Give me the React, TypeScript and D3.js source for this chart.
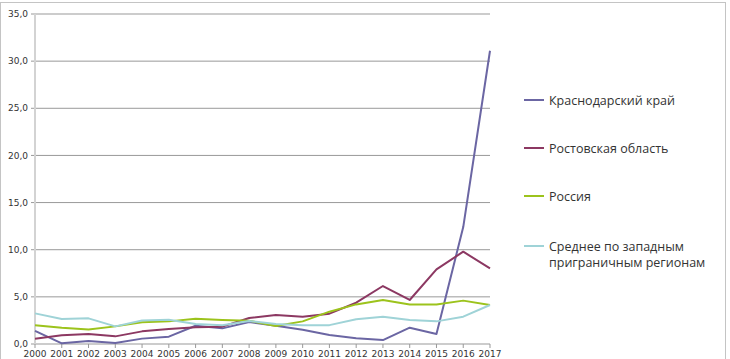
import React from "react";
import * as d3 from "d3";

const width = 730;
const height = 359;
const margin = { top: 14, left: 35, bottom: 15, right: 240 };

const years = [2000, 2001, 2002, 2003, 2004, 2005, 2006, 2007, 2008, 2009, 2010, 2011, 2012, 2013, 2014, 2015, 2016, 2017];
const yTicks = [0, 5, 10, 15, 20, 25, 30, 35];

const krasnodar = [1.4, 0.07, 0.32, 0.1, 0.57, 0.78, 1.94, 1.66, 2.33, 1.94, 1.52, 0.95, 0.6, 0.42, 1.73, 1.06, 12.4, 31.1];
const rostov = [0.56, 0.92, 1.06, 0.81, 1.34, 1.59, 1.77, 1.84, 2.76, 3.07, 2.9, 3.22, 4.38, 6.15, 4.67, 7.92, 9.79, 8.02];
const russia = [2.0, 1.73, 1.55, 1.87, 2.3, 2.4, 2.69, 2.55, 2.47, 1.91, 2.4, 3.43, 4.2, 4.67, 4.2, 4.2, 4.6, 4.14];
const western = [3.25, 2.65, 2.72, 1.87, 2.5, 2.58, 2.12, 1.98, 2.44, 2.12, 2.0, 2.0, 2.62, 2.9, 2.55, 2.4, 2.9, 4.14];

const series = [
  { name: ["Краснодарский край"], values: krasnodar, color: "#6b66a3" },
  { name: ["Ростовская область"], values: rostov, color: "#8c3862" },
  { name: ["Россия"], values: russia, color: "#9cc31c" },
  { name: ["Среднее по западным", "приграничным регионам"], values: western, color: "#9fd3d7" },
];

const legendY = [100, 148, 196, 246];

const x = d3.scaleLinear().domain([2000, 2017]).range([margin.left, 490]);
const y = d3.scaleLinear().domain([0, 35]).range([344, margin.top]);

const fmt = (v: number) => d3.format(".1f")(v).replace(".", ",");

export default function App() {
  const line = d3.line<number>().x((_, i) => x(years[i])).y(d => y(d));
  return (
    <svg width={width} height={height} style={{ position: "absolute", left: 0, top: 0, background: "#fff" }}>
      <rect x={0.5} y={2.5} width={725} height={400} fill="#fff" stroke="#c4c4c4" />
      {yTicks.map(t => (
        <g key={t}>
          <line x1={31} x2={490} y1={y(t)} y2={y(t)} stroke="#999" strokeWidth={1} />
          <text x={28} y={y(t)} dy="0.35em" textAnchor="end" fontFamily="DejaVu Sans" fontSize={9} fill="#333">{fmt(t)}</text>
        </g>
      ))}
      <line x1={x(2000)} x2={x(2000)} y1={y(35)} y2={y(0)} stroke="#d3d3d3" strokeWidth={2} />
      {years.map(yr => (
        <g key={yr}>
          <line x1={x(yr)} x2={x(yr)} y1={344} y2={348} stroke="#999" />
          <text x={x(yr)} y={356.5} textAnchor="middle" fontFamily="DejaVu Sans" fontSize={9} fill="#333">{yr}</text>
        </g>
      ))}
      {series.map(s => (
        <path key={s.name[0]} d={line(s.values) || ""} fill="none" stroke={s.color} strokeWidth={2} strokeLinejoin="round" />
      ))}
      {series.map((s, i) => (
        <g key={s.name[0]}>
          <line x1={524} x2={544} y1={legendY[i]} y2={legendY[i]} stroke={s.color} strokeWidth={2} />
          {s.name.map((n, j) => (
            <text key={n} x={549} y={legendY[i] + 4.5 + j * 16} fontFamily="Open Sans" fontSize={12.5} fill="#333">{n}</text>
          ))}
        </g>
      ))}
    </svg>
  );
}
